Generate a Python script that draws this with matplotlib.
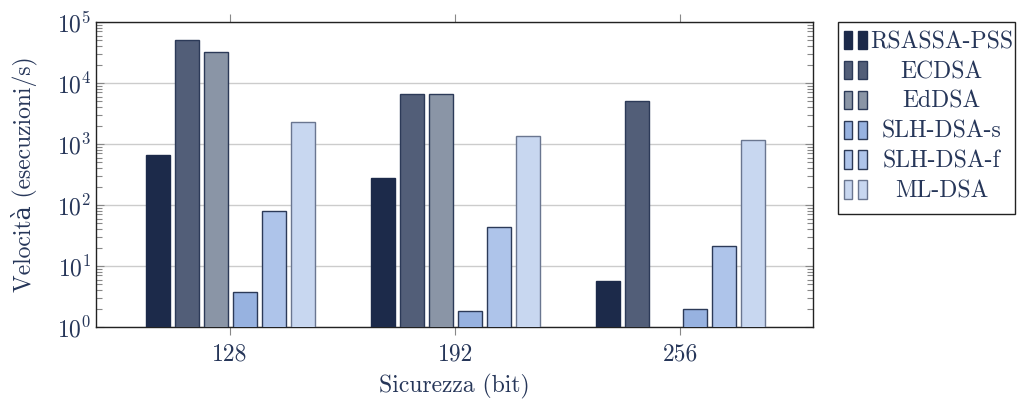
import numpy as np
import matplotlib
matplotlib.use('Agg')

import matplotlib.pyplot as plt
from matplotlib.legend_handler import HandlerBase
from matplotlib.patches import Rectangle

# dati
security = ['128', '192', '256']
schemes = ['RSASSA-PSS', 'ECDSA', 'EdDSA', 'SLH-DSA-s', 'SLH-DSA-f', 'ML-DSA']
rsassa = [650, 280, 5.7]
ecdsa = [50700, 6600, 5000]
eddsa = [32200, 6700, np.nan]
slh_s = [3.8, 1.85, 1.97]
slh_f = [80, 43.5, 21]
ml_dsa = [2290, 1370, 1170]

series = [rsassa, ecdsa, eddsa, slh_s, slh_f, ml_dsa]
fills = ['#1c2a4a', '#525e78', '#8a95a6', '#97b2e0', '#aec4ea', '#c8d7f0']
edges = ['#1c2a4a', '#2c3a58', '#2c3a58', '#2c3a58', '#2c3a58', '#6a7690']
TEXT = '#263659'

plt.rcParams['font.family'] = ['cmr10', 'DejaVu Serif']
plt.rcParams['mathtext.fontset'] = 'cm'
plt.rcParams['axes.formatter.use_mathtext'] = True
plt.rcParams['font.size'] = 17


class TwoBars(HandlerBase):
    # simbolo stile pgfplots: due piccole barre
    def create_artists(self, legend, orig_handle, xdescent, ydescent,
                       width, height, fontsize, trans):
        fc = orig_handle.get_facecolor()
        ec = orig_handle.get_edgecolor()
        w = width * 0.27
        h = height * 1.1
        y0 = -ydescent - height * 0.05
        r1 = Rectangle((-xdescent + width * 0.18, y0), w, h, facecolor=fc,
                       edgecolor=ec, lw=1.0, transform=trans)
        r2 = Rectangle((-xdescent + width * 0.66, y0), w, h, facecolor=fc,
                       edgecolor=ec, lw=1.0, transform=trans)
        return [r1, r2]


W, H = 1018, 401
fig = plt.figure(figsize=(W / 100, H / 100), dpi=100)
ax = fig.add_axes([96 / W, 74 / H, 717 / W, 305 / H])

x = np.arange(len(security))
step = 0.129
width = 0.107
bars = []
for i, (vals, fc, ec, name) in enumerate(zip(series, fills, edges, schemes)):
    b = ax.bar(x + (i - 2.5) * step, vals, width, color=fc, edgecolor=ec,
               linewidth=1.0, label=name, zorder=3)
    bars.append(b)

ax.set_yscale('log')
ax.set_ylim(1, 1e5)
ax.set_xlim(-0.596, 2.59)
ax.set_xticks(x)
ax.set_xticklabels(security)

ax.grid(axis='y', which='major', color='#cccccc', lw=1.0, zorder=0)
ax.tick_params(axis='y', which='both', direction='in', left=True, right=True,
               color='#888888', labelcolor=TEXT)
ax.tick_params(axis='y', which='major', length=6, width=0.8)
ax.tick_params(axis='y', which='minor', length=4, width=0.8)
ax.tick_params(axis='x', which='both', direction='out', top=True, bottom=True,
               length=6, width=0.8, color='#888888', labelcolor=TEXT, pad=6)
ax.tick_params(axis='x', which='minor', top=False, bottom=False)
for sp in ax.spines.values():
    sp.set_color('#222222')
    sp.set_linewidth(1.0)

ax.set_xlabel('Sicurezza (bit)', color=TEXT, labelpad=6)
ax.set_ylabel('Velocità (esecuzioni/s)', color=TEXT, labelpad=14)

handles = [b.patches[0] for b in bars]
leg = fig.legend(handles, schemes, loc='upper left',
                 bbox_to_anchor=(838 / W, (H - 31) / H),
                 handler_map={Rectangle: TwoBars()},
                 frameon=False, borderpad=0, labelspacing=0.33,
                 handlelength=1.3, handletextpad=0.05, borderaxespad=0)
for t in leg.get_texts():
    t.set_color(TEXT)

# cornice della legenda
fig.add_artist(Rectangle((838 / W, (H - 214) / H), 177 / W, 192 / H,
                         transform=fig.transFigure, fill=False,
                         edgecolor='#222222', lw=1.0))

# centra le etichette della legenda
fig.canvas.draw()
r = fig.canvas.get_renderer()
texts = leg.get_texts()
widths = [t.get_window_extent(r).width for t in texts]
wmax = max(widths)
for t, w in zip(texts, widths):
    t.set_x((wmax - w) / 2)

fig.savefig('out.png', dpi=100)
